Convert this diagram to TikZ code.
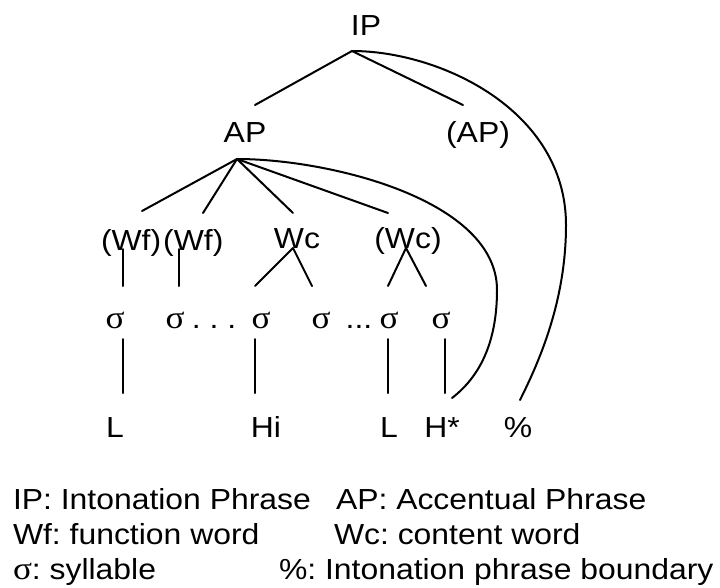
\documentclass[tikz,border=0pt]{standalone}
\usepackage{fontspec}
\setmainfont[FakeStretch=1.1]{Liberation Sans}
\newfontfamily\sigfont[FakeStretch=1.1]{Liberation Serif}
\frenchspacing
\begin{document}
\begin{tikzpicture}[x=1pt,y=-1pt,line width=2pt,
  lbl/.style={inner sep=0pt,anchor=base,font=\fontsize{29}{34}\selectfont},
  syl/.style={inner sep=0pt,anchor=base,font=\fontsize{32}{34}\sigfont},
  leg/.style={inner sep=0pt,anchor=base west,font=\fontsize{29}{34}\selectfont},
  branch/.style={line width=2pt,line cap=round},
  assoc/.style={line width=2pt,line cap=round}]
\useasboundingbox (0,0) rectangle (720,587);
% tree labels
\node[lbl] (ip) at (366,35) {IP};
\node[lbl] (ap) at (245,142) {AP};
\node[lbl] (ap2) at (478,142) {(AP)};
\node[lbl,anchor=base west] (wf1) at (100,250) {(Wf)};
\node[lbl,anchor=base west] (wf2) at (wf1.base east) {(Wf)};
\node[lbl] (wc) at (297,248) {Wc};
\node[lbl] (wc2) at (408,248) {(Wc)};
% syllables
\node[syl] (s1) at (115,328) {σ};
\node[syl] (s2) at (175,328) {σ};
\node[lbl] (d1) at (214,328) {. . .};
\node[syl] (s3) at (261,328) {σ};
\node[syl] (s4) at (321,328) {σ};
\node[lbl] (d2) at (359,328) {...};
\node[syl] (s5) at (389,328) {σ};
\node[syl] (s6) at (441,328) {σ};
% tones
\node[lbl] (t1) at (115,437) {L};
\node[lbl] (t2) at (266,437) {Hi};
\node[lbl] (t3) at (389,437) {L};
\node[lbl] (t4) at (442,437) {H*};
\node[lbl] (t5) at (518,437) {\%};
% connection points
\coordinate (ipA) at (352,51);
\coordinate (apT) at (255,105);
\coordinate (ap2T) at (463,105);
\coordinate (apA) at (237,159);
\coordinate (wf1T) at (142,211);
\coordinate (wf2T) at (203,213);
\coordinate (wcT) at (293,213);
\coordinate (wc2T) at (388,213);
\coordinate (wf1B) at (123,249);
\coordinate (wf2B) at (179,249);
\coordinate (wcA) at (293,248);
\coordinate (wc2A) at (406,248);
\coordinate (s1T) at (123,286);
\coordinate (s2T) at (179,286);
\coordinate (s3T) at (255,286);
\coordinate (s4T) at (312,286);
\coordinate (s5T) at (388,286);
\coordinate (s6T) at (426,286);
\coordinate (s1B) at (123,339);
\coordinate (s3B) at (255,339);
\coordinate (s5B) at (388,339);
\coordinate (s6B) at (445,339);
\coordinate (t1T) at (123,393);
\coordinate (t2T) at (255,393);
\coordinate (t3T) at (388,393);
\coordinate (t4T) at (445,393);
\coordinate (ipEnd) at (520,400);
\coordinate (apEnd) at (452,398);
% branches
\draw[branch] (ipA) -- (apT);
\draw[branch] (ipA) -- (ap2T);
\draw[branch] (apA) -- (wf1T);
\draw[branch] (apA) -- (wf2T);
\draw[branch] (apA) -- (wcT);
\draw[branch] (apA) -- (wc2T);
\draw[branch] (wf1B) -- (s1T);
\draw[branch] (wf2B) -- (s2T);
\draw[branch] (wcA) -- (s3T);
\draw[branch] (wcA) -- (s4T);
\draw[branch] (wc2A) -- (s5T);
\draw[branch] (wc2A) -- (s6T);
% associations
\draw[assoc] (s1B) -- (t1T);
\draw[assoc] (s3B) -- (t2T);
\draw[assoc] (s5B) -- (t3T);
\draw[assoc] (s6B) -- (t4T);
\draw[assoc] (ipA) .. controls (440,51) and (566,110) .. (566,225)
   .. controls (566,300) and (540,360) .. (ipEnd);
\draw[assoc] (apA) .. controls (330,159) and (497,200) .. (497,290)
   .. controls (497,345) and (478,378) .. (apEnd);
% legend
\node[leg] (l1a) at (12,509) {IP: Intonation Phrase};
\node[leg] (l1b) at (335,509) {AP: Accentual Phrase};
\node[leg] (l2a) at (12,544) {Wf: function word};
\node[leg] (l2b) at (333,544) {Wc: content word};
\node[leg] (l3a) at (12,579) {{\fontsize{32}{34}\sigfont σ}: syllable};
\node[leg] (l3b) at (278,579) {\%: Intonation phrase boundary};
\end{tikzpicture}
\end{document}
